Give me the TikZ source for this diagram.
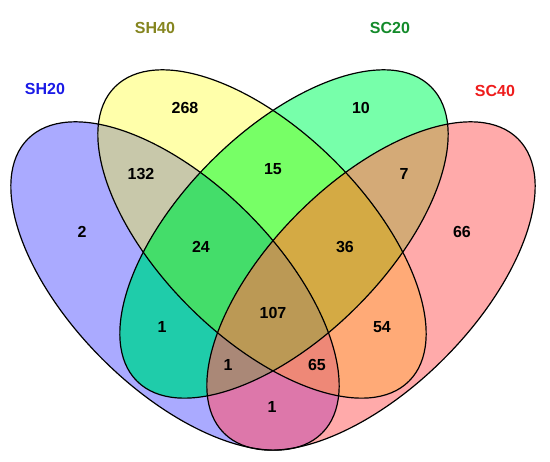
\documentclass[tikz,border=0pt]{standalone}
\usepackage{fontspec}
\setmainfont{Liberation Sans}
\usepackage{xcolor}

% fills of the regions (one colour per combination)
\definecolor{shA}{HTML}{AAAAFF}
\definecolor{shB}{HTML}{FFFFAA}
\definecolor{scA}{HTML}{77FFAA}
\definecolor{scB}{HTML}{FFAAAA}
\definecolor{shAshB}{HTML}{C8C8AA}
\definecolor{shBscA}{HTML}{77FF66}
\definecolor{scAscB}{HTML}{D4AA77}
\definecolor{shAscA}{HTML}{1FCCAA}
\definecolor{shBscB}{HTML}{FFAA77}
\definecolor{shAscB}{HTML}{DD77AA}
\definecolor{shAshBscA}{HTML}{44DD6A}
\definecolor{shBscAscB}{HTML}{D4AA44}
\definecolor{shAscAscB}{HTML}{AA8877}
\definecolor{shAshBscB}{HTML}{EE8877}
\definecolor{allsets}{HTML}{BB9955}
% set names
\definecolor{nameshA}{HTML}{1A1AE6}
\definecolor{nameshB}{HTML}{85851F}
\definecolor{namescA}{HTML}{138A2A}
\definecolor{namescB}{HTML}{EE1C1C}

% the four ellipses
\def\ellSHtw{(175,176) ellipse [x radius=208, y radius=103, rotate=-45]}
\def\ellSHfo{(262,228) ellipse [x radius=208, y radius=103, rotate=-45]}
\def\ellSCtw{(284,228) ellipse [x radius=208, y radius=103, rotate=45]}
\def\ellSCfo{(371,176) ellipse [x radius=208, y radius=103, rotate=45]}

\begin{document}
\begin{tikzpicture}[
  x=1pt, y=1pt,
  outline/.style={
    draw=black,
    line width=1.2pt
  },
  count/.style={
    font=\fontsize{16}{18}\selectfont\bfseries
  },
  setname/.style={
    font=\fontsize{16}{18}\selectfont\bfseries
  }
]
\useasboundingbox (0,0) rectangle (550,462);

% one set
\fill[shA] \ellSHtw;
\fill[shB] \ellSHfo;
\fill[scA] \ellSCtw;
\fill[scB] \ellSCfo;

% two sets
\begin{scope} \clip \ellSHtw; \fill[shAshB] \ellSHfo; \end{scope}
\begin{scope} \clip \ellSHfo; \fill[shBscA] \ellSCtw; \end{scope}
\begin{scope} \clip \ellSCtw; \fill[scAscB] \ellSCfo; \end{scope}
\begin{scope} \clip \ellSHtw; \fill[shAscA] \ellSCtw; \end{scope}
\begin{scope} \clip \ellSHfo; \fill[shBscB] \ellSCfo; \end{scope}
\begin{scope} \clip \ellSHtw; \fill[shAscB] \ellSCfo; \end{scope}

% three sets
\begin{scope} \clip \ellSHtw; \clip \ellSHfo; \fill[shAshBscA] \ellSCtw; \end{scope}
\begin{scope} \clip \ellSHfo; \clip \ellSCtw; \fill[shBscAscB] \ellSCfo; \end{scope}
\begin{scope} \clip \ellSHtw; \clip \ellSCtw; \fill[shAscAscB] \ellSCfo; \end{scope}
\begin{scope} \clip \ellSHtw; \clip \ellSHfo; \fill[shAshBscB] \ellSCfo; \end{scope}

% all four
\begin{scope}
  \clip \ellSHtw; \clip \ellSHfo; \clip \ellSCtw;
  \fill[allsets] \ellSCfo;
\end{scope}

% outlines
\draw[outline] \ellSHtw;
\draw[outline] \ellSHfo;
\draw[outline] \ellSCtw;
\draw[outline] \ellSCfo;

% set names
\node[setname, text=nameshA] (lSHtw) at (45,373) {SH20};
\node[setname, text=nameshB] (lSHfo) at (155,434) {SH40};
\node[setname, text=namescA] (lSCtw) at (390,434) {SC20};
\node[setname, text=namescB] (lSCfo) at (495,371) {SC40};

% counts
\node[count] (nB) at (185,354) {268};
\node[count] (nC) at (361,354) {10};
\node[count] (nAB) at (141,288) {132};
\node[count] (nBC) at (273,293) {15};
\node[count] (nCD) at (404,288) {7};
\node[count] (nA) at (82,230) {2};
\node[count] (nABC) at (201,215) {24};
\node[count] (nBCD) at (345,215) {36};
\node[count] (nD) at (462,230) {66};
\node[count] (nAC) at (162,135) {1};
\node[count] (nABCD) at (273,149) {107};
\node[count] (nBD) at (382,135) {54};
\node[count] (nACD) at (228,97) {1};
\node[count] (nABD) at (317,97) {65};
\node[count] (nAD) at (272,55) {1};

\end{tikzpicture}
\end{document}
